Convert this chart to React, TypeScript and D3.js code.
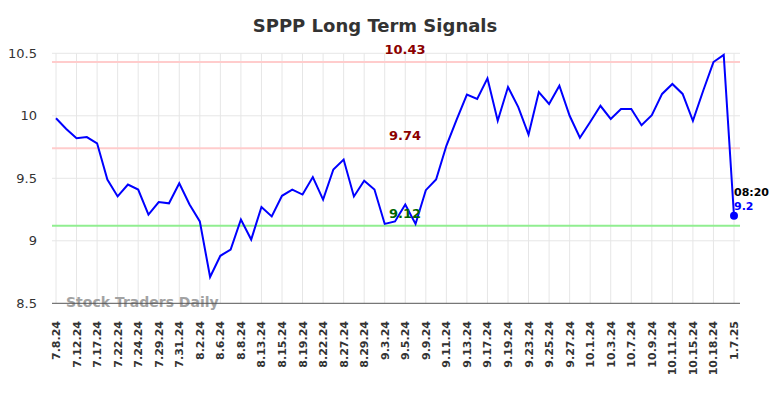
import React from "react";
import * as d3 from "d3";

const labels = ["7.8.24","7.12.24","7.17.24","7.22.24","7.24.24","7.29.24","7.31.24","8.2.24","8.6.24","8.8.24","8.13.24","8.15.24","8.19.24","8.22.24","8.27.24","8.29.24","9.3.24","9.5.24","9.9.24","9.11.24","9.13.24","9.17.24","9.19.24","9.23.24","9.25.24","9.27.24","10.1.24","10.3.24","10.7.24","10.9.24","10.11.24","10.15.24","10.18.24","1.7.25"];

const values = [9.98,9.895,9.82,9.83,9.78,9.49,9.355,9.45,9.41,9.21,9.31,9.30,9.46,9.29,9.155,8.71,8.88,8.93,9.17,9.01,
9.27,9.195,9.36,9.41,9.37,9.51,9.33,9.57,9.65,9.355,9.48,9.41,9.135,9.155,9.29,9.135,9.405,9.49,9.76,9.97,
10.17,10.135,10.30,9.96,10.23,10.07,9.85,10.19,10.095,10.24,10.0,9.825,9.95,10.08,9.975,10.055,10.055,9.925,10.005,10.175,
10.255,10.175,9.96,10.20,10.43,10.487,9.2];

const yTicks = [8.5, 9, 9.5, 10, 10.5];
const levels = [
  { v: 10.43, label: "10.43", line: "#ffcccc", text: "#8b0000" },
  { v: 9.74, label: "9.74", line: "#ffcccc", text: "#8b0000" },
  { v: 9.12, label: "9.12", line: "#90ee90", text: "#006400" },
];
const lastTime = "08:20";

export default function App() {
  const W = 784, H = 398;
  const left = 52, right = 740, top = 53.3, bottom = 303.3;
  const x = d3.scaleLinear().domain([0, values.length - 1]).range([56, 734]);
  const y = d3.scaleLinear().domain([8.5, 10.5]).range([bottom, top]);
  const line = d3.line<number>().x((_, i) => x(i)).y((d) => y(d));
  const last = values.length - 1;
  return (
    <svg width={W} height={H} style={{ position: "absolute", left: 0, top: 0, fontFamily: "DejaVu Sans" }}>
      <rect width={W} height={H} fill="#fff" />
      <text x={375} y={32} textAnchor="middle" fontSize={18} fontWeight="bold" fill="#333">SPPP Long Term Signals</text>
      {yTicks.filter((t) => t !== 8.5).map((t) => (
        <line key={t} x1={left} x2={right} y1={y(t)} y2={y(t)} stroke="#e6e6e6" strokeWidth={1} />
      ))}
      {labels.map((l, i) => (
        <line key={l} x1={x(i * 2)} x2={x(i * 2)} y1={top} y2={bottom} stroke="#e6e6e6" strokeWidth={1} />
      ))}
      {yTicks.map((t) => (
        <text key={t} x={37} y={y(t)} dy="0.35em" textAnchor="end" fontSize={13} fill="#333">{t}</text>
      ))}
      {levels.map((lv) => (
        <line key={lv.label} x1={left} x2={right} y1={y(lv.v)} y2={y(lv.v)} stroke={lv.line} strokeWidth={2} />
      ))}
      <text x={66} y={307} fontSize={14} fontWeight="bold" fill="#999" opacity={0.9}>Stock Traders Daily</text>
      <line x1={left} x2={right} y1={bottom} y2={bottom} stroke="#555" strokeWidth={1} />
      <path d={line(values) || ""} fill="none" stroke="#0000ff" strokeWidth={2} />
      {levels.map((lv) => (
        <text key={lv.label} x={405} y={y(lv.v) - 8} textAnchor="middle" fontSize={13} fontWeight="bold" fill={lv.text}>{lv.label}</text>
      ))}
      <circle cx={x(last)} cy={y(values[last])} r={4} fill="#0000ff" />
      <text x={x(last)} y={196} fontSize={11} fontWeight="bold" fill="#000">{lastTime}</text>
      <text x={x(last)} y={210} fontSize={11} fontWeight="bold" fill="#0000ff">{values[last]}</text>
      {labels.map((l, i) => (
        <text key={l} transform={`translate(${x(i * 2) + 4},321) rotate(-90)`} textAnchor="end" fontSize={11} fontWeight="bold" fill="#333">{l}</text>
      ))}
    </svg>
  );
}
